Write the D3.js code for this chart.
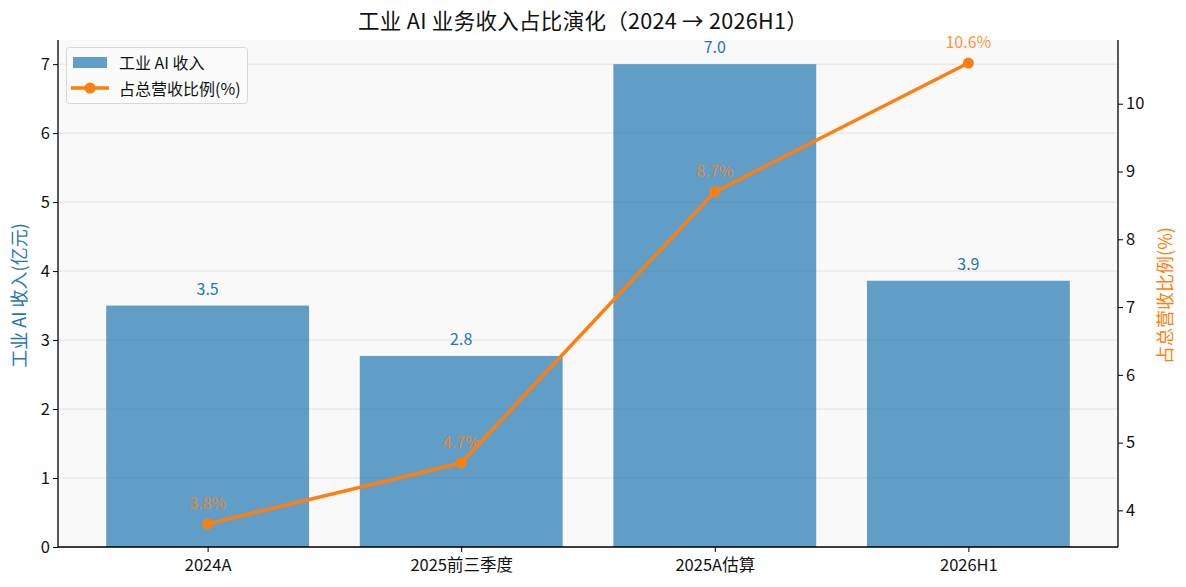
<!DOCTYPE html>
<html><head><meta charset="utf-8">
<script src="https://cdn.jsdelivr.net/npm/d3@7"></script>
<style>body{margin:0;background:#fff}svg{display:block}text{font-family:"Noto Sans CJK SC","Noto Sans",sans-serif}</style>
</head><body><svg id="c" width="1186" height="587"></svg>
<script>
const categories = ["2024A","2025前三季度","2025A估算","2026H1"];
const revenue = [3.5, 2.77, 7.0, 3.86];
const revenueLabels = ["3.5","2.8","7.0","3.9"];
const share = [3.8, 4.7, 8.7, 10.6];
const shareLabels = ["3.8%","4.7%","8.7%","10.6%"];
const leftTicks = [0,1,2,3,4,5,6,7];
const rightTicks = [4,5,6,7,8,9,10];

const svg = d3.select("#c");
const L=58,R=1118,T=40,B=547;
const blue="#1f77b4", orange="#ff7f0e";
const x = d3.scaleLinear().domain([-0.59,3.59]).range([L,R]);
const y = d3.scaleLinear().domain([0,7.35]).range([B,T]);
const y2 = d3.scaleLinear().domain([3.46,10.94]).range([B,T]);

svg.append("rect").attr("x",L).attr("y",T).attr("width",R-L).attr("height",B-T).attr("fill","#f9f9f9");
svg.append("g").selectAll("line").data(leftTicks).join("line")
 .attr("x1",L).attr("x2",R).attr("y1",d=>y(d)).attr("y2",d=>y(d)).attr("stroke","#e2e2e2").attr("stroke-width",1);

svg.append("g").selectAll("rect").data(revenue).join("rect")
 .attr("x",(d,i)=>x(i-0.4)).attr("width",x(0.4)-x(-0.4))
 .attr("y",d=>y(d)).attr("height",d=>y(0)-y(d)).attr("fill",blue).attr("fill-opacity",0.7);

svg.append("g").selectAll("text").data(revenue).join("text")
 .attr("x",(d,i)=>x(i)).attr("y",d=>y(d)-11).attr("text-anchor","middle")
 .attr("font-size",16).attr("fill",blue).text((d,i)=>revenueLabels[i]);

svg.append("g").selectAll("text").data(share).join("text")
 .attr("x",(d,i)=>x(i)).attr("y",d=>y2(d)-15).attr("text-anchor","middle")
 .attr("font-size",16).attr("fill",orange).attr("fill-opacity",0.85).text((d,i)=>shareLabels[i]);

const line = d3.line().x((d,i)=>x(i)).y(d=>y2(d));
svg.append("path").datum(share).attr("d",line).attr("fill","none").attr("stroke",orange).attr("stroke-width",3.5).attr("stroke-linejoin","round");
svg.append("g").selectAll("circle").data(share).join("circle")
 .attr("cx",(d,i)=>x(i)).attr("cy",d=>y2(d)).attr("r",5.5).attr("fill",orange);

// axes
const ax = svg.append("g").attr("transform",`translate(0,${B})`)
 .call(d3.axisBottom(x).tickValues([0,1,2,3]).tickFormat(i=>categories[i]).tickSize(5).tickSizeOuter(0));
const ay = svg.append("g").attr("transform",`translate(${L},0)`)
 .call(d3.axisLeft(y).tickValues(leftTicks).tickFormat(d3.format("d")).tickSize(5).tickSizeOuter(0));
const ay2 = svg.append("g").attr("transform",`translate(${R},0)`)
 .call(d3.axisRight(y2).tickValues(rightTicks).tickFormat(d3.format("d")).tickSize(5).tickSizeOuter(0));
[ax,ay,ay2].forEach(g=>{
  g.select(".domain").attr("stroke","#000").attr("stroke-width",1.3);
  g.selectAll(".tick line").attr("stroke","#000").attr("stroke-width",1);
  g.selectAll(".tick text").attr("font-size",16.5).attr("fill","#111").style("font-family",'"Noto Sans CJK SC",sans-serif');
});
ay.select(".domain").attr("d",`M0,${T}V${B}`);
ay2.select(".domain").attr("d",`M0,${T}V${B}`);
ax.select(".domain").attr("d",`M${L},0H${R}`);
ax.selectAll(".tick text").attr("dy","0.95em");

svg.append("text").attr("x",583).attr("y",28.5).attr("text-anchor","middle").attr("font-size",21.5).attr("letter-spacing",0.3).attr("fill","#111")
 .text("工业 AI 业务收入占比演化（2024 → 2026H1）");
svg.append("text").attr("transform",`translate(26,${(T+B)/2+2}) rotate(-90)`).attr("text-anchor","middle").attr("font-size",18).attr("fill",blue)
 .text("工业 AI 收入(亿元)");
svg.append("text").attr("transform",`translate(1172,${(T+B)/2+2}) rotate(-90)`).attr("text-anchor","middle").attr("font-size",18).attr("fill",orange)
 .text("占总营收比例(%)");

// legend
const lg = svg.append("g");
lg.append("rect").attr("x",66.5).attr("y",47.5).attr("width",181).attr("height",56).attr("rx",3).attr("fill","#fbfbfb").attr("fill-opacity",0.9).attr("stroke","#d8d8d8");
lg.append("rect").attr("x",73).attr("y",57).attr("width",34).attr("height",11).attr("fill",blue).attr("fill-opacity",0.7);
lg.append("text").attr("x",119).attr("y",69).attr("font-size",16).attr("fill","#111").text("工业 AI 收入");
lg.append("line").attr("x1",71).attr("x2",109).attr("y1",88).attr("y2",88).attr("stroke",orange).attr("stroke-width",3.5);
lg.append("circle").attr("cx",90).attr("cy",88).attr("r",5.5).attr("fill",orange);
lg.append("text").attr("x",119).attr("y",95).attr("font-size",16).attr("fill","#111").text("占总营收比例(%)");
</script></body></html>
